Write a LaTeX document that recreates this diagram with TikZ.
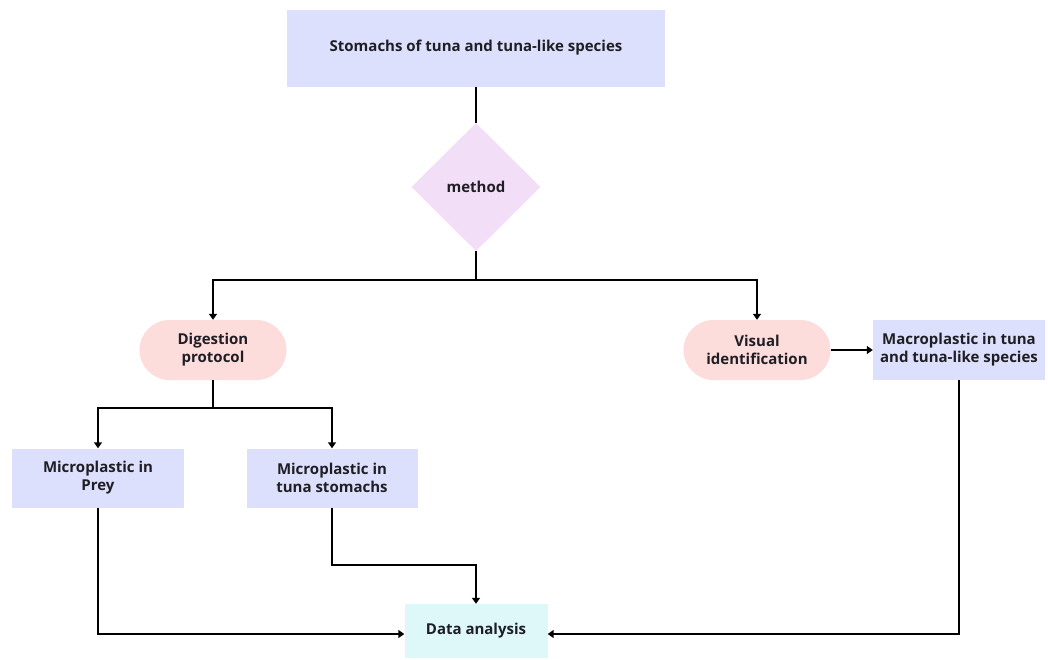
\documentclass[tikz,border=0pt]{standalone}
\usepackage{fontspec}
\setmainfont{Open Sans}
\usetikzlibrary{shapes.geometric,arrows.meta}
\definecolor{boxblue}{HTML}{DDE0FC}
\definecolor{boxpink}{HTML}{FDDCDC}
\definecolor{boxlilac}{HTML}{F2DEF7}
\definecolor{boxcyan}{HTML}{DEF8FA}
\definecolor{inktext}{HTML}{1E1E24}
\tikzset{
  box/.style={fill=boxblue, minimum width=#1, minimum height=59pt, align=center, inner sep=0pt},
  pill/.style={fill=boxpink, rounded corners=30pt, minimum width=147pt, minimum height=60pt, align=center, inner sep=0pt},
  decision/.style={fill=boxlilac, diamond, minimum width=129pt, minimum height=128pt, inner sep=0pt},
  link/.style={line width=1.9pt},
  arrow/.style={link, -{Triangle[length=6pt,width=8pt]}}
}
\begin{document}
\begin{tikzpicture}[x=1pt,y=-1pt, font=\fontsize{15}{18}\selectfont\bfseries, text=inktext]
  \useasboundingbox (0,0) rectangle (1048,659);
  \draw[draw=none]
    (476,48) node[box=378pt, minimum height=77pt] (stomach){Stomachs of tuna and tuna-like species}
    (476,187) node[decision] (method){method}
    (213,350) node[pill] (digest){Digestion\\protocol}
    (757,350) node[pill] (visual){Visual\\identification}
    (959,350) node[box=172pt, minimum height=60pt] (macro){Macroplastic in tuna\\and tuna-like species}
    (98,478) node[box=172pt] (prey){Microplastic in\\Prey}
    (332,478) node[box=171pt] (tuna){Microplastic in\\tuna stomachs}
    (476,631) node[box=143pt, fill=boxcyan, minimum height=54pt] (data){Data analysis};
  \draw[link] (stomach) -- (method);
  \begin{scope}[arrow]
    \draw (method.south) -- (476,280) -| (digest.north);
    \draw (method.south) -- (476,280) -| (visual.north);
    \draw (visual) -- (macro);
    \draw (digest.south) -- (213,408) -| (prey.north);
    \draw (digest.south) -- (213,408) -| (tuna.north);
    \draw (prey.south) |- ([yshift=-3pt]data.west);
    \draw (tuna.south) -- (332,565) -| (data.north);
    \draw (macro.south) |- ([yshift=-3pt]data.east);
  \end{scope}
\end{tikzpicture}
\end{document}
